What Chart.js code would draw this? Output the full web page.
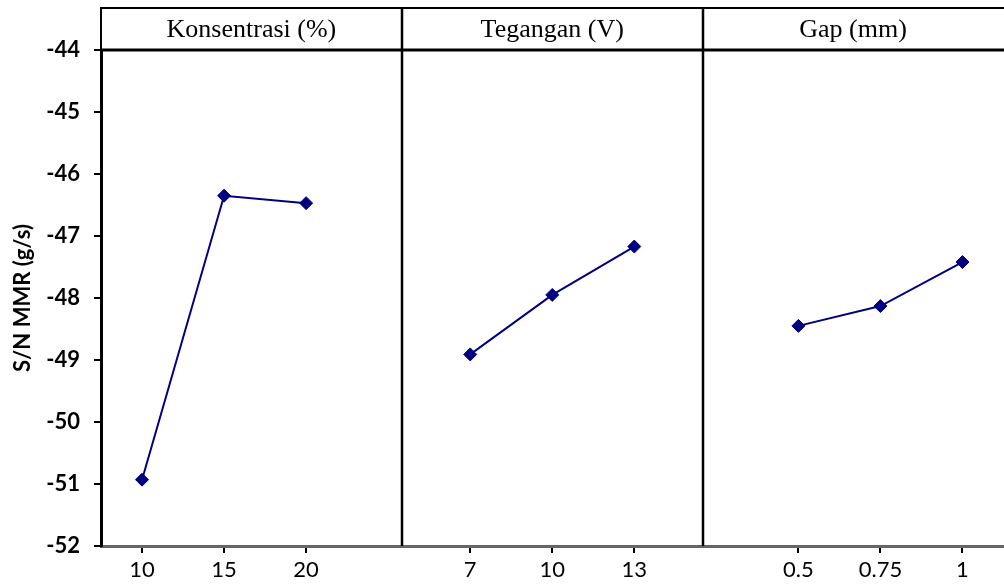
<!DOCTYPE html>
<html><head><meta charset="utf-8">
<script src="https://cdn.jsdelivr.net/npm/chart.js@4.4.1/dist/chart.umd.min.js"></script>
<style>
html,body{margin:0;padding:0;background:#fff;overflow:hidden;width:1004px;height:584px}
#wrap{width:1011px;height:584px;position:relative}
</style>
</head><body><div id="wrap"><canvas id="c" width="1011" height="584"></canvas></div>
<script>
// ---- data ----
const factorNames = ['Konsentrasi (%)', 'Tegangan (V)', 'Gap (mm)'];
const konsentrasiLevels = ['10', '15', '20'];
const konsentrasiSN = [-50.93, -46.35, -46.47];
const teganganLevels = ['7', '10', '13'];
const teganganSN = [-48.91, -47.95, -47.17];
const gapLevels = ['0.5', '0.75', '1'];
const gapSN = [-48.45, -48.13, -47.42];
const yMin = -52, yMax = -44, yStep = 1;
const yTitle = 'S/N MMR (g/s)';

// ---- build category axis (blank slot between factors) ----
const groups = [konsentrasiSN, teganganSN, gapSN];
const levelGroups = [konsentrasiLevels, teganganLevels, gapLevels];
const labels = [];
levelGroups.forEach((lv, i) => { if (i > 0) labels.push(''); labels.push(...lv); });
const datasets = groups.map((vals, gi) => {
  const data = labels.map(() => null);
  let start = 0;
  for (let k = 0; k < gi; k++) start += levelGroups[k].length + 1;
  vals.forEach((v, j) => { data[start + j] = v; });
  return {
    label: factorNames[gi], data,
    borderColor: '#000080', backgroundColor: '#000080',
    borderWidth: 2, pointStyle: 'rectRot', pointRadius: 6.5,
    pointBorderWidth: 1, pointBackgroundColor: '#000080', pointBorderColor: '#000080',
    spanGaps: false, tension: 0
  };
});

Chart.defaults.font.family = 'Lato';
const panelPlugin = {
  id: 'panels',
  afterDraw(chart) {
    const ctx = chart.ctx;
    const {left, top, right, bottom} = chart.chartArea;
    const w = right - left;
    const hTop = 7;
    ctx.save();
    ctx.strokeStyle = '#000';
    ctx.lineWidth = 2;
    ctx.beginPath();
    ctx.moveTo(left - 1, hTop + 1); ctx.lineTo(right + 2, hTop + 1);
    ctx.moveTo(left, hTop); ctx.lineTo(left, top);
    ctx.stroke();
    ctx.lineWidth = 3;
    ctx.beginPath();
    ctx.moveTo(left, top); ctx.lineTo(right + 2, top);
    ctx.stroke();
    ctx.lineWidth = 2.5;
    for (let i = 1; i < factorNames.length; i++) {
      const x = Math.round(left + w * i / factorNames.length);
      ctx.beginPath(); ctx.moveTo(x, hTop); ctx.lineTo(x, bottom); ctx.stroke();
    }
    ctx.fillStyle = '#000';
    ctx.font = '26px "Liberation Serif"';
    ctx.textAlign = 'center'; ctx.textBaseline = 'middle';
    factorNames.forEach((n, i) => {
      ctx.fillText(n, left + w * (i + 0.5) / factorNames.length, (hTop + top) / 2 + 2);
    });
    ctx.restore();
  }
};

new Chart(document.getElementById('c'), {
  type: 'line',
  data: { labels, datasets },
  options: {
    responsive: false, animation: false, devicePixelRatio: 1,
    layout: { padding: { top: 50, left: 0, right: 0, bottom: 0 } },
    plugins: { legend: { display: false }, tooltip: { enabled: false } },
    scales: {
      x: {
        type: 'category', offset: true,
        grid: {
          drawOnChartArea: false, offset: false, tickLength: 7, lineWidth: 2,
          color: c => (labels[c.index] ? '#000' : 'rgba(0,0,0,0)'),
          tickColor: c => (labels[c.index] ? '#000' : 'rgba(0,0,0,0)')
        },
        border: { display: true, color: '#666', width: 3 },
        ticks: { autoSkip: false, maxRotation: 0, color: '#000', font: { size: 22 }, padding: 4 },
        afterFit: s => { s.height = 38; }
      },
      y: {
        min: yMin, max: yMax,
        grid: { drawOnChartArea: false, tickLength: 7, lineWidth: 2, color: '#000', tickColor: '#000' },
        border: { display: true, color: '#000', width: 3 },
        ticks: { stepSize: yStep, color: '#000', font: { size: 22, weight: 'bold' }, padding: 14 },
        title: { display: true, text: yTitle, color: '#000', font: { size: 22, weight: 'bold' }, padding: { top: 10, bottom: 0 } },
        afterFit: s => { s.width = 101; }
      }
    }
  },
  plugins: [panelPlugin]
});
</script>
</body></html>
